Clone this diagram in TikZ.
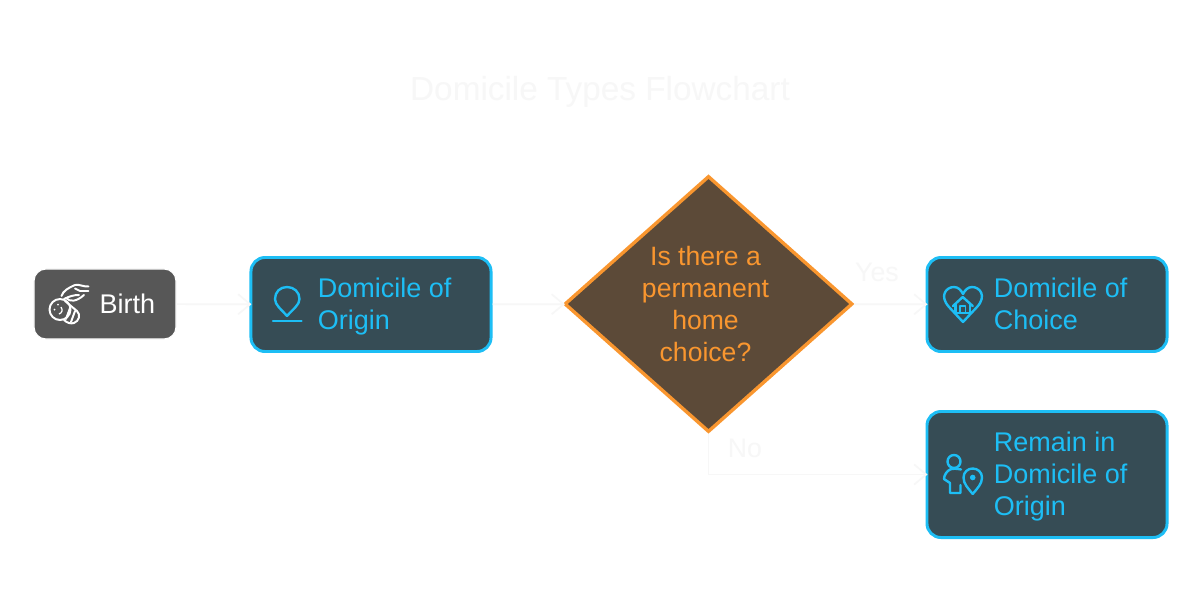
\documentclass[tikz,border=0pt]{standalone}
\usepackage{fontspec}
\setmainfont{Liberation Sans}
\usetikzlibrary{arrows.meta,positioning,shapes.geometric}
\definecolor{boxfill}{HTML}{364C55}
\definecolor{boxblue}{HTML}{1DBEF5}
\definecolor{birthfill}{HTML}{575757}
\definecolor{choicefill}{HTML}{5C4A38}
\definecolor{choiceline}{HTML}{F9962F}
\definecolor{faint}{HTML}{F7F7F7}
\tikzset{
    bluebox/.style={draw=boxblue,fill=boxfill,line width=2.1pt,rounded corners=.35cm,minimum width=6cm,minimum height=2.35cm,inner sep=0},
    bluetext/.style={text=boxblue,font=\fontsize{19.2}{22.75}\selectfont,align=left,inner sep=0,yshift=-.075cm},
    flow/.style={draw=faint,line width=1.2pt,shorten >=-.05cm,-{Straight Barb[length=.3cm,width=.5cm]}},
    faintlabel/.style={text=faint,font=\fontsize{19}{22.75}\selectfont,inner sep=0},
    blueicon/.style={draw=boxblue,line width=1.7pt,line join=round,line cap=round},
    whiteicon/.style={draw=white,line width=1.4pt,line join=round,line cap=round}
}

\begin{document}
\begin{tikzpicture}[x=.025cm,y=-.025cm]
    \useasboundingbox[fill=white] (0,0) rectangle (1200,604);

    % Title.
    \node[text=faint,font=\fontsize{23.7}{28}\selectfont,inner sep=0] (title) at (600,92) {Domicile Types Flowchart};

    % Draw the boxes.
    \node[draw=white,line width=.8pt,fill=birthfill,rounded corners=.3cm,minimum width=3.55cm,minimum height=1.75cm,inner sep=0] (birth) at (105,304) {};
    \node[bluebox] (origin) at (371,304.5) {};
    \node[diamond,draw=choiceline,fill=choicefill,line width=2.4pt,minimum width=7.2cm,minimum height=6.4cm,inner sep=0,aspect=1.12] (choice) at (708.5,304) {};
    \node[bluebox] (domchoice) at (1047,304.5) {};
    \node[bluebox,minimum height=3.15cm] (remain) at (1047,474.5) {};

    % Box labels.
    \node[text=white,font=\fontsize{19.2}{22.75}\selectfont,inner sep=0,anchor=west,yshift=-.075cm,right=1.65cm of birth.west] (birthtext) {\strut Birth};
    \node[bluetext,anchor=west,right=1.7cm of origin.west] (origintext) {\strut Domicile of\\Origin\strut};
    \node[bluetext,text=choiceline,align=center,font=\fontsize{18.9}{22.75}\selectfont,xshift=-.075cm] (choicelabel) at (choice.center) {\strut Is there a\\permanent\\home\\choice?\strut};
    \node[bluetext,anchor=west,right=1.7cm of domchoice.west] (choicetext) {\strut Domicile of\\Choice\strut};
    \node[bluetext,anchor=west,right=1.7cm of remain.west] (remaintext) {\strut Remain in\\Domicile of\\Origin\strut};

    % Draw connectors.
    \draw[flow] (birth) -- (origin);
    \draw[flow] (origin) -- (choice);
    \draw[flow] (choice) -- (domchoice);
    \draw[flow] (choice.south) |- (remain.west);

    % Label branches.
    \node[faintlabel] (yes) at (877,272) {Yes};
    \node[faintlabel] (no) at (745,448) {No};

    % Birth icon.
    \draw[whiteicon] (61.5,296) .. controls (63,291) and (68,288) .. (75,285) .. controls (79,284) and (84,287) .. (88.5,286.5);
    \draw[whiteicon] (75,288.5) -- (80,291) -- (88.5,291);
    \draw[whiteicon] (64,299) .. controls (70,296) and (74,295) .. (79,295);
    \draw[whiteicon] (66,298) .. controls (70,302) and (76,302) .. (84,295);
    \draw[whiteicon] (60,309.5) circle [radius=10.5];
    \draw[whiteicon] (65,301) -- (77,311) .. controls (81,315) and (79,321) .. (74,323) .. controls (71,324) and (67,323) .. (64,320);
    \draw[whiteicon] (70,308) -- (66,319);
    \draw[whiteicon] (75,311) -- (71,322);
    \fill[white] (58,304.5) circle [radius=1];
    \fill[white] (54.5,309.5) circle [radius=1];
    \draw[white,line width=.9pt] (61,307) .. controls (63,310) and (62,313) .. (59,314);

    % Origin icon.
    \draw[blueicon] (287,316) .. controls (281,309) and (275,305) .. (275,299) .. controls (275,292) and (280,287) .. (287,287) .. controls (294,287) and (299.5,292) .. (299.5,299) .. controls (299.5,305) and (293,309) .. (287,316);
    \draw[blueicon] (273,321) -- (301.5,321);

    % Choice icon.
    \draw[blueicon] (949,307) -- (963,322) -- (977,307) .. controls (987,296) and (980,287) .. (972,287) .. controls (968,287) and (965,290) .. (963,294) .. controls (961,290) and (958,287) .. (954,287) .. controls (946,287) and (939,296) .. (949,307);
    \draw[blueicon] (953,306) -- (962.7,297) -- (972.7,306);
    \draw[blueicon] (955.5,304) -- (955.5,313) -- (970,313) -- (970,304);
    \draw[blueicon,line width=1.1pt] (960,313) -- (960,306) -- (965.5,306) -- (965.5,313);

    % Remain icon.
    \draw[blueicon] (954,461.5) circle [radius=6.5];
    \draw[blueicon] (961,469.5) .. controls (957,468.5) and (952,468.5) .. (950,469.5) .. controls (947,471) and (944,475) .. (944,479) -- (950,483) -- (950,493) -- (960.5,493) -- (960.5,485);
    \draw[blueicon] (972.7,494) .. controls (968,488) and (963.5,484) .. (963.5,477.5) .. controls (963.5,472) and (968,468.5) .. (972.7,468.5) .. controls (977.5,468.5) and (982,472) .. (982,477.5) .. controls (982,484) and (977.5,488) .. (972.7,494);
    \fill[boxblue] (972.7,477.5) circle [radius=2.8];
\end{tikzpicture}
\end{document}
